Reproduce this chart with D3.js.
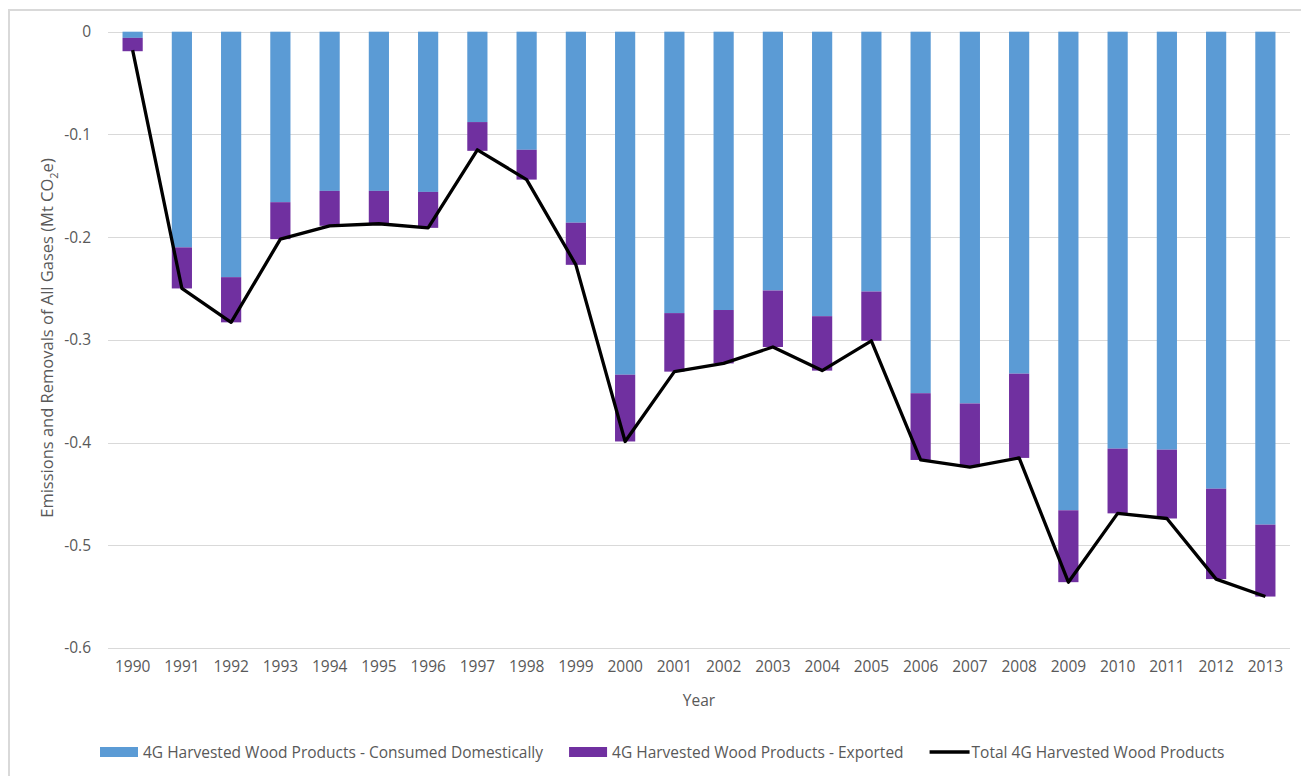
<!DOCTYPE html>
<html>
<head>
<meta charset="utf-8">
<script src="https://cdn.jsdelivr.net/npm/d3@7"></script>
<style>
  body { margin: 0; background: #fff; }
  svg { display: block; }
  svg text { font-family: "Open Sans", "Liberation Sans", sans-serif; }
  .tick text { fill: #595959; font-size: 15.5px; }
</style>
</head>
<body>
<svg id="chart" width="1301" height="776"></svg>
<script>
var years = ["1990", "1991", "1992", "1993", "1994", "1995", "1996", "1997", "1998", "1999", "2000", "2001",
             "2002", "2003", "2004", "2005", "2006", "2007", "2008", "2009", "2010", "2011", "2012", "2013"];
var domestic = [-0.006, -0.210, -0.239, -0.166, -0.155, -0.155, -0.156, -0.088, -0.115, -0.186, -0.334, -0.274,
                -0.271, -0.252, -0.277, -0.253, -0.352, -0.362, -0.333, -0.466, -0.406, -0.407, -0.445, -0.480];
var exported = [-0.013, -0.040, -0.044, -0.036, -0.034, -0.032, -0.035, -0.028, -0.029, -0.041, -0.065, -0.057,
                -0.052, -0.055, -0.053, -0.048, -0.065, -0.062, -0.082, -0.070, -0.063, -0.067, -0.088, -0.070];
var total = [-0.018, -0.250, -0.283, -0.202, -0.189, -0.187, -0.191, -0.115, -0.144, -0.227, -0.399, -0.331,
             -0.323, -0.307, -0.330, -0.301, -0.417, -0.424, -0.415, -0.536, -0.469, -0.474, -0.533, -0.550];
var yTicks = [0, -0.1, -0.2, -0.3, -0.4, -0.5, -0.6];
var seriesNames = ["4G Harvested Wood Products - Consumed Domestically",
                   "4G Harvested Wood Products - Exported",
                   "Total 4G Harvested Wood Products"];
var colors = ["#5b9bd5", "#7030a0", "#000000"];

var svg = d3.select("#chart");
var grey = "#595959";

// chart frame
svg.append("rect")
    .attr("x", 9).attr("y", 10)
    .attr("width", 1400).attr("height", 900)
    .attr("fill", "none").attr("stroke", "#d9d9d9").attr("stroke-width", 2);

var mLeft = 108, mRight = 1290, mTop = 31.7, mBottom = 647.9;

var x = d3.scaleBand().domain(years).range([mLeft, mRight]).paddingInner(0.59).paddingOuter(0.295);
var y = d3.scaleLinear().domain([0, -0.6]).range([mTop, mBottom]);

// gridlines
svg.append("g").selectAll("line")
    .data(yTicks)
    .enter().append("line")
    .attr("x1", mLeft).attr("x2", mRight)
    .attr("y1", d => Math.round(y(d)) + 0.5)
    .attr("y2", d => Math.round(y(d)) + 0.5)
    .attr("stroke", "#d9d9d9").attr("stroke-width", 1);

// y axis labels
var yAxis = svg.append("g")
    .attr("transform", "translate(" + (mLeft - 11) + ",0)")
    .call(d3.axisLeft(y).tickValues(yTicks).tickSize(0).tickPadding(6)
        .tickFormat(d => d === 0 ? "0" : d3.format(".1f")(d).replace("−", "-")));
yAxis.select(".domain").remove();

// x axis labels
var xAxis = svg.append("g")
    .attr("transform", "translate(0," + mBottom + ")")
    .call(d3.axisBottom(x).tickSize(0).tickPadding(13));
xAxis.select(".domain").remove();

// stacked bars
var rows = years.map((yr, i) => ({year: yr, domestic: domestic[i], exported: exported[i]}));
var stack = d3.stack().keys(["domestic", "exported"]).offset(d3.stackOffsetDiverging)(rows);

svg.append("g").selectAll("g")
    .data(stack)
    .enter().append("g")
    .attr("fill", (d, i) => colors[i])
    .selectAll("rect")
    .data(d => d)
    .enter().append("rect")
    .attr("x", d => x(d.data.year))
    .attr("width", x.bandwidth())
    .attr("y", d => y(d3.max(d)))
    .attr("height", d => y(d3.min(d)) - y(d3.max(d)));

// total line
var line = d3.line()
    .x((d, i) => x(years[i]) + x.bandwidth() / 2)
    .y(d => y(d));

svg.append("path")
    .datum(total)
    .attr("d", line)
    .attr("fill", "none")
    .attr("stroke", "#000")
    .attr("stroke-width", 3.3)
    .attr("stroke-linejoin", "round");

// axis titles
svg.append("text")
    .attr("x", (mLeft + mRight) / 2).attr("y", 700)
    .attr("text-anchor", "middle").attr("dominant-baseline", "central")
    .attr("fill", grey).style("font-size", "15.5px")
    .text("Year");

var yTitle = svg.append("text")
    .attr("transform", "translate(46,338) rotate(-90)")
    .attr("text-anchor", "middle").attr("dominant-baseline", "central")
    .attr("fill", grey).style("font-size", "16.5px");
yTitle.append("tspan").text("Emissions and Removals of All Gases (Mt CO");
yTitle.append("tspan").attr("baseline-shift", "sub").style("font-size", "11px").text("2");
yTitle.append("tspan").text("e)");

// legend
var legend = svg.append("g").attr("transform", "translate(0,752)");
var lx = 100;
seriesNames.forEach(function (name, i) {
    var g = legend.append("g").attr("transform", "translate(" + lx + ",0)");
    if (i < 2) {
        g.append("rect").attr("x", 0).attr("y", -5).attr("width", 38).attr("height", 10).attr("fill", colors[i]);
    } else {
        g.append("line").attr("x1", 0).attr("x2", 40).attr("y1", 0).attr("y2", 0)
            .attr("stroke", "#000").attr("stroke-width", 3.3);
    }
    var t = g.append("text")
        .attr("x", i < 2 ? 43 : 42).attr("y", 0)
        .attr("dominant-baseline", "central")
        .attr("fill", grey).style("font-size", "15.5px")
        .text(name);
    lx += (i < 2 ? 43 : 42) + t.node().getComputedTextLength() + 26;
});
</script>
</body>
</html>
